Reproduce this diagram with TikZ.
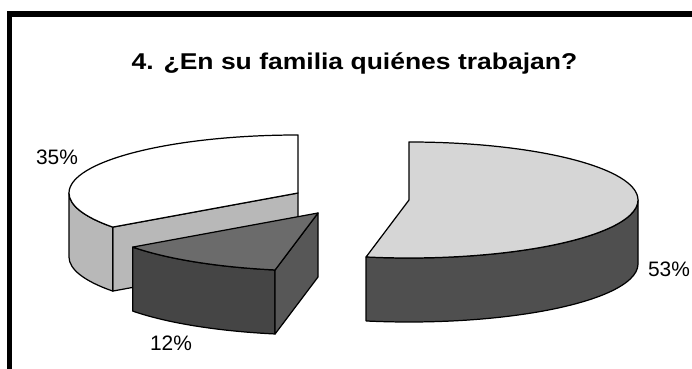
\documentclass[tikz,border=0pt]{standalone}
\usepackage{fontspec}
\setmainfont{Liberation Sans}
\definecolor{sidelight}{gray}{0.72}
\definecolor{topdark}{gray}{0.42}
\definecolor{frontdark}{gray}{0.27}
\definecolor{facedark}{gray}{0.34}
\definecolor{toplight}{gray}{0.84}
\definecolor{sidedark}{gray}{0.31}
\begin{document}
\begin{tikzpicture}[x=0.02cm,y=0.02cm,
	slice/.style={draw=black,line width=0.7pt,line join=round},
	rad/.style={x radius=229,y radius=58},
	pct/.style={font=\fontsize{11.9}{14}\selectfont,inner sep=0}]
	% Canvas and frame
	\clip (0,0) rectangle (692,368);
	\fill[white] (0,0) rectangle (692,368);
	\draw[line width=0.11cm] (9.5,354) rectangle (720,-20);
	% Title
	\node[anchor=base,font=\bfseries\fontsize{13}{16}\selectfont,xscale=1.16] (title) at (354.5,298)
		{4. ¿En su familia quiénes trabajan?};
	% 35% slice
	\coordinate (c35) at (298,175);
	\coordinate (c35b) at (298,111);
	\path (c35) ++(180:229 and 58) coordinate (l35) ++(0,-64) coordinate (l35b);
	\path (c35) ++(216:229 and 58) coordinate (a35) ++(0,-64) coordinate (a35b);
	\path (c35) ++(90:229 and 58) coordinate (t35);
	\filldraw[fill=sidelight,slice] (c35) -- (a35) -- (a35b) -- (c35b) -- cycle;
	\filldraw[fill=sidelight,slice] (l35) arc[rad,start angle=180,end angle=216]
		-- (a35b) arc[rad,start angle=216,end angle=180] -- cycle;
	\filldraw[fill=white,slice] (c35) -- (t35) arc[rad,start angle=90,end angle=216] -- cycle;
	% 12% slice
	\coordinate (c12) at (318,155);
	\coordinate (c12b) at (318,91);
	\path (c12) ++(216:229 and 58) coordinate (a12) ++(0,-64) coordinate (a12b);
	\path (c12) ++(259.2:229 and 58) coordinate (b12) ++(0,-64) coordinate (b12b);
	\filldraw[fill=frontdark,slice] (a12) arc[rad,start angle=216,end angle=259.2]
		-- (b12b) arc[rad,start angle=259.2,end angle=216] -- cycle;
	\filldraw[fill=facedark,slice] (c12) -- (b12) -- (b12b) -- (c12b) -- cycle;
	\filldraw[fill=topdark,slice] (c12) -- (a12) arc[rad,start angle=216,end angle=259.2] -- cycle;
	% 53% slice
	\coordinate (c53) at (409,168);
	\path (c53) ++(259.2:229 and 58) coordinate (a53) ++(0,-64) coordinate (a53b);
	\path (c53) ++(0:229 and 58) coordinate (e53) ++(0,-64) coordinate (e53b);
	\path (c53) ++(90:229 and 58) coordinate (t53);
	\filldraw[fill=sidedark,slice] (a53) arc[rad,start angle=259.2,end angle=360]
		-- (e53b) arc[rad,start angle=360,end angle=259.2] -- cycle;
	\filldraw[fill=toplight,slice] (c53) -- (t53) arc[rad,start angle=90,end angle=-100.8] -- cycle;
	% Percent labels
	\node[pct] (lab35) at (57,211) {35\%};
	\node[pct] (lab12) at (171,25) {12\%};
	\node[pct] (lab53) at (669,99) {53\%};
\end{tikzpicture}
\end{document}
